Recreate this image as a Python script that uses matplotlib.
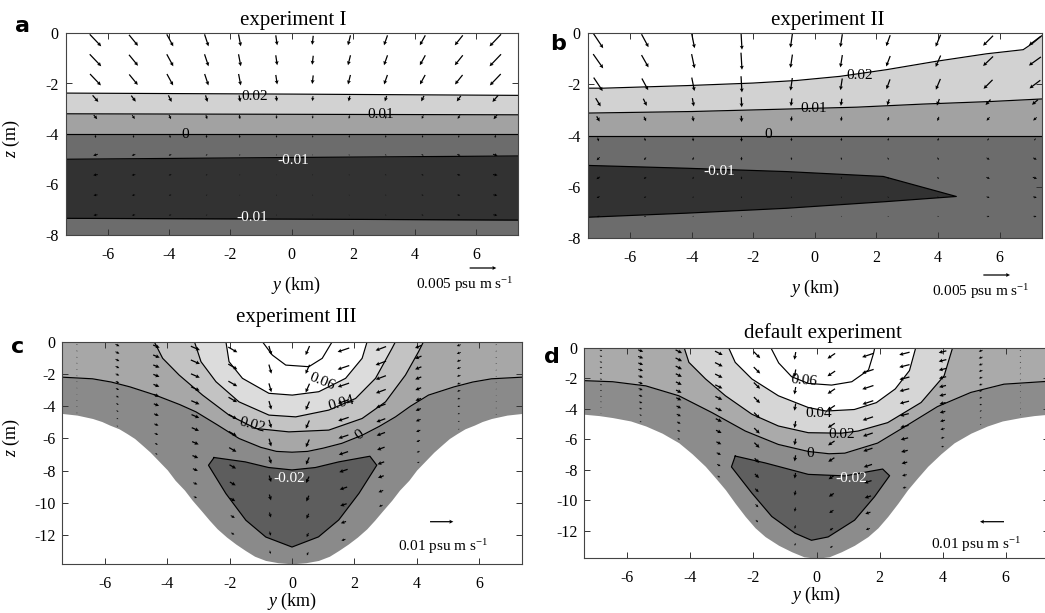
import numpy as np
import matplotlib
matplotlib.use("Agg")
import matplotlib.pyplot as plt

plt.rcParams.update({
    "font.family": "Liberation Serif",
    "mathtext.fontset": "custom",
    "mathtext.rm": "Liberation Serif",
    "mathtext.it": "Liberation Serif:italic",
    "axes.unicode_minus": False,
})

# ---------------------------------------------------------------- panel a
A_X = [-7.37, 0.0, 7.37]
A_Z_P002 = [-2.38, -2.42, -2.47]
A_Z_P001 = [-3.20, -3.22, -3.24]
A_Z_0 = [-3.99, -3.99, -3.99]
A_Z_M001_TOP = [-5.00, -4.93, -4.87]
A_Z_M001_BOT = [-7.34, -7.37, -7.41]

A_COLS = [-6.4, -5.16, -3.97, -2.78, -1.7, -0.5, 0.68, 1.87, 3.06, 4.26, 5.44, 6.63]
A_ROWS = [-0.29, -1.08, -1.85, -2.6, -3.33, -4.1, -4.83, -5.62, -6.42, -7.21]
A_U_SURF = [2.15, 1.69, 1.22, 0.75, 0.43, 0.28, -0.19, -0.47, -0.66, -1.03, -1.50, -2.15]   # 1e-3 psu m/s
A_W_SURF = [-2.25, -2.06, -2.25, -2.25, -2.25, -1.87, -1.69, -1.87, -1.87, -1.87, -1.87, -2.25]
A_FU = [1.0, 1.0, 0.95, 0.5, 0.3, 0.05, -0.4, -0.4, -0.35, -0.35]
A_FW = [1.0, 1.0, 0.95, 0.55, 0.35, 0.25, 0.12, 0.05, 0.04, 0.04]

# ---------------------------------------------------------------- panel b
B_P002_X = [-7.37, -6.86, -4.16, -2.0, -0.59, 0.81, 2.32, 3.95, 5.57, 6.76, 7.08, 7.37]
B_P002_Z = [-2.15, -2.15, -2.05, -1.95, -1.85, -1.69, -1.43, -1.10, -0.81, -0.65, -0.39, -0.10]
B_P001_X = [-7.37, -4.0, -0.8, 1.36, 3.5, 5.7, 7.37]
B_P001_Z = [-3.12, -3.06, -2.96, -2.89, -2.77, -2.67, -2.57]
B_0_X = [-7.37, 7.37]
B_0_Z = [-4.0, -4.0]
B_M001_TOP_X = [-7.37, -4.16, -0.92, 2.22, 4.59]
B_M001_TOP_Z = [-5.16, -5.27, -5.40, -5.59, -6.37]
B_M001_BOT_X = [-7.37, -4.16, -0.92, 2.32, 4.59]
B_M001_BOT_Z = [-7.18, -7.02, -6.83, -6.57, -6.37]

B_COLS = [-7.03, -5.51, -3.95, -2.38, -0.76, 0.86, 2.38, 4.0, 5.62, 7.14]
B_ROWS = [-0.3, -1.1, -2.0, -2.7, -3.35, -4.15, -4.9, -5.65, -6.4, -7.15]
B_U_SURF = [1.87, 1.31, 0.56, 0.19, -0.37, -0.37, -0.75, -0.94, -1.87, -2.25]
B_W_SURF = [-2.81, -2.43, -2.81, -3.37, -2.62, -2.43, -2.06, -2.25, -1.87, -1.69]
B_FU = [1.0, 1.0, 0.9, 0.5, 0.3, 0.1, -0.3, -0.35, -0.3, -0.25]
B_FW = [1.0, 0.95, 0.9, 0.55, 0.35, 0.25, 0.2, 0.15, 0.1, 0.08]

# ---------------------------------------------------------------- panel c
C_BATH_X = [-7.37, -6.9, -6.4, -6.1, -5.85, -5.55, -5.3, -5.05, -4.8, -4.55, -4.3, -4.0, -3.75,
            -3.45, -3.2, -2.9, -2.65, -2.4, -2.1, -1.8, -1.5, -1.2, -0.85, -0.45, 0.0,
            0.45, 0.85, 1.2, 1.5, 1.8, 2.1, 2.4, 2.65, 2.9, 3.2, 3.45, 3.75, 4.0,
            4.3, 4.55, 4.8, 5.05, 5.3, 5.55, 5.85, 6.1, 6.4, 6.9, 7.37]
C_BATH_Z = [-4.45, -4.55, -4.76, -4.95, -5.17, -5.4, -5.69, -6.0, -6.42, -6.85, -7.35, -7.95, -8.59,
            -9.2, -9.83, -10.5, -11.07, -11.6, -12.11, -12.55, -12.94, -13.3, -13.56, -13.7, -13.77,
            -13.7, -13.56, -13.3, -12.94, -12.55, -12.11, -11.6, -11.07, -10.5, -9.83, -9.2, -8.59, -7.95,
            -7.35, -6.85, -6.42, -6.0, -5.69, -5.4, -5.17, -4.95, -4.76, -4.55, -4.45]
C_0_X = [-7.37, -6.4, -5.8, -5.2, -4.4, -3.6, -3.08, -2.4, -1.7, -1.0, -0.5, 0.0,
         0.5, 1.0, 1.6, 2.25, 2.8, 3.32, 3.8, 4.38, 5.2, 5.8, 6.4, 7.37]
C_0_Z = [-2.2, -2.3, -2.5, -2.8, -3.3, -3.9, -4.35, -5.15, -6.0, -6.55, -6.8, -6.85,
         -6.8, -6.6, -6.3, -5.8, -5.25, -4.66, -4.0, -3.31, -2.8, -2.5, -2.3, -2.2]
C_P002_X = [-4.42, -4.15, -3.62, -2.87, -2.02, -1.16, -0.1, 1.18, 2.25, 3.0, 3.64, 4.06, 4.22]
C_P002_Z = [0.0, -1.03, -2.07, -3.31, -4.55, -5.38, -5.59, -5.48, -4.76, -3.73, -2.07, -0.62, 0.0]
C_P004_X = [-3.13, -2.92, -2.44, -1.7, -0.74, 0.12, 1.18, 2.04, 2.68, 3.21, 3.32]
C_P004_Z = [0.0, -1.24, -2.48, -3.73, -4.55, -4.66, -4.24, -3.52, -2.27, -0.41, 0.0]
C_P006_X = [-2.12, -2.02, -1.59, -0.74, 0.01, 0.86, 1.72, 2.25, 2.41]
C_P006_Z = [0.0, -1.24, -2.27, -3.2, -3.31, -3.1, -2.27, -1.03, 0.0]
C_P008_X = [-0.95, -0.63, -0.2, 0.54, 0.97, 1.29]
C_P008_Z = [0.0, -0.83, -1.45, -1.55, -1.03, 0.0]
C_M002_X = [-2.5, -1.5, -0.75, 0.0, 0.75, 1.5, 2.5, 2.72, 2.15, 1.5, 0.85, 0.0, -0.84, -1.48, -2.12, -2.68]
C_M002_Z = [-7.18, -7.45, -7.8, -7.95, -7.8, -7.45, -7.1, -7.66, -9.4, -11.05, -12.1, -12.73, -12.11, -11.07, -9.42, -7.66]

C_COLS = [-6.9, -5.6, -4.35, -3.1, -1.9, -0.7, 0.5, 1.65, 2.85, 4.05, 5.35, 6.55]
C_DEPTH = [4.6, 5.45, 7.25, 10.05, 12.4, 13.6, 13.7, 12.8, 10.6, 7.8, 5.65, 4.7]
SIGMA = [0.04, 0.125, 0.21, 0.29, 0.375, 0.46, 0.54, 0.625, 0.71, 0.79, 0.875, 0.96]
C_U_SURF = [0.5, 1.7, 2.8, 3.9, 3.9, 1.1, -1.7, -5.0, -4.5, -2.8, -1.7, -0.5]
C_W_SURF = [-0.3, -0.85, -1.15, -1.7, -2.25, -3.9, -3.9, -1.7, -1.7, -1.15, -0.6, -0.3]
C_F = [1.0, 1.0, 0.97, 0.94, 0.9, 0.85, 0.8, 0.72, 0.64, 0.55, 0.45, 0.35]

# ---------------------------------------------------------------- panel d
D_BATH_X = [-7.37, -6.9, -6.47, -5.9, -5.42, -4.9, -4.37, -3.95, -3.53, -3.2, -2.89, -2.58, -2.26,
            -1.95, -1.63, -1.2, -0.79, -0.4, 0.0,
            0.4, 0.79, 1.2, 1.63, 1.95, 2.26, 2.58, 2.89, 3.2, 3.53, 3.95, 4.37, 4.9,
            5.42, 5.9, 6.47, 6.9, 7.37]
D_BATH_Z = [-4.36, -4.45, -4.58, -4.8, -5.13, -5.6, -6.23, -6.95, -7.77, -8.55, -9.31, -10.2, -11.06,
            -11.8, -12.38, -12.95, -13.37, -13.7, -13.8,
            -13.7, -13.37, -12.95, -12.38, -11.8, -11.06, -10.2, -9.31, -8.55, -7.77, -6.95, -6.23, -5.6,
            -5.13, -4.8, -4.58, -4.45, -4.36]
D_0_X = [-7.37, -6.47, -5.42, -4.37, -3.32, -2.26, -1.21, -0.26, 0.4, 0.9, 1.94, 2.8, 3.84, 4.9, 5.95, 7.37]
D_0_Z = [-2.16, -2.23, -2.5, -3.15, -4.25, -5.46, -6.34, -6.8, -6.95, -6.91, -6.25, -5.18, -3.86, -2.93, -2.39, -2.2]
D_P002_X = [-4.2, -4.05, -3.52, -2.89, -2.05, -1.21, -0.26, 0.79, 1.32, 2.26, 3.32, 4.05, 4.32]
D_P002_Z = [0.0, -0.96, -2.05, -3.15, -4.36, -5.13, -5.57, -5.6, -5.46, -4.91, -3.59, -1.84, 0.0]
D_P004_X = [-2.79, -2.58, -2.05, -1.21, -0.26, 0.3, 1.2, 1.9, 2.5, 2.95, 3.15]
D_P004_Z = [0.0, -0.96, -2.05, -3.15, -3.92, -4.15, -4.05, -3.6, -2.7, -1.5, 0.0]
D_P006_X = [-1.45, -1.2, -0.79, -0.26, 0.48, 1.12, 1.65, 1.81, 1.85]
D_P006_Z = [0.0, -1.0, -1.9, -2.34, -2.45, -2.23, -1.46, -0.37, 0.0]
D_M002_X = [-2.58, -1.63, -0.26, 0.9, 2.1, 2.32, 1.84, 1.21, 0.37, -0.16, -0.68, -1.42, -2.05, -2.7]
D_M002_Z = [-7.1, -7.55, -8.3, -8.4, -7.95, -8.39, -9.77, -11.3, -12.4, -12.62, -12.16, -11.06, -9.53, -7.81]

D_COLS = [-6.84, -5.58, -4.37, -3.1, -1.89, -0.68, 0.47, 1.63, 2.79, 4.0, 5.21, 6.47]
D_DEPTH = [4.49, 5.05, 6.23, 8.8, 11.84, 13.43, 13.6, 12.38, 9.55, 6.75, 5.25, 4.58]
D_U_SURF = [1.0, 2.1, 2.7, 3.2, 2.7, -0.55, -3.2, -4.8, -4.3, -3.2, -1.6, -0.55]
D_W_SURF = [-0.4, -0.8, -1.35, -1.6, -2.7, -3.2, -2.15, -1.6, -1.1, -0.8, -0.55, -0.3]
D_F = [1.0, 1.0, 0.97, 0.94, 0.9, 0.85, 0.8, 0.72, 0.64, 0.55, 0.45, 0.35]

# ---------------------------------------------------------------- figure
W, H = 1045, 613
fig = plt.figure(figsize=(W / 100, H / 100), dpi=100)


def px_axes(left, top, right, bottom):
    return fig.add_axes([left / W, 1 - bottom / H, (right - left) / W, (bottom - top) / H])


def fx(x):
    return x / W


def fy(y):
    return 1 - y / H


LW = 0.85


def style(ax, ylim, yticks):
    ax.set_xlim(-7.37, 7.37)
    ax.set_ylim(*ylim)
    ax.set_xticks([-6, -4, -2, 0, 2, 4, 6])
    ax.set_yticks(yticks)
    ax.tick_params(direction="in", top=True, right=True, length=4, width=0.7,
                   labelsize=11.5, color="#333333")
    ax.tick_params(axis="x", pad=8.5)
    ax.tick_params(axis="y", pad=5)
    for s in ax.spines.values():
        s.set_color("#444444")
        s.set_linewidth(0.8)
        s.set_zorder(10)


def quiv(ax, xs, zs, u, w, per_px):
    return ax.quiver(xs, zs, u, w, units="dots", scale_units="dots", scale=per_px,
                     angles="uv", pivot="mid", width=1.25, headwidth=3.2,
                     headlength=3.2, headaxislength=2.8, minshaft=1.5, minlength=0.6,
                     color="k", zorder=5)


def lab(ax, x, z, s, color="k", rot=0):
    ax.text(x, z, s, fontsize=11, color=color, ha="center", va="center",
            rotation=rot, rotation_mode="anchor", zorder=6)


# ---- panel a
ax = px_axes(65.7, 33, 518, 235)
ax.fill_between(A_X, -8, 0, color="#6c6c6c", lw=0)
ax.fill_between(A_X, A_Z_0, 0, color="#a2a2a2", lw=0)
ax.fill_between(A_X, A_Z_P001, 0, color="#d2d2d2", lw=0)
ax.fill_between(A_X, A_Z_P002, 0, color="white", lw=0)
ax.fill_between(A_X, A_Z_M001_BOT, A_Z_M001_TOP, color="#323232", lw=0)
for zz in (A_Z_P002, A_Z_P001, A_Z_0, A_Z_M001_TOP, A_Z_M001_BOT):
    ax.plot(A_X, zz, color="k", lw=LW, zorder=3)
gx, gz = np.meshgrid(A_COLS, A_ROWS)
ua = np.outer(A_FU, A_U_SURF) * 1e-3
wa = np.outer(A_FW, A_W_SURF) * 1e-3
qa = quiv(ax, gx, gz, ua, wa, 0.005 / 26.7)
lab(ax, -1.21, -2.51, "0.02")
lab(ax, 2.9, -3.24, "0.01")
lab(ax, -3.48, -4.03, "0")
lab(ax, 0.05, -5.05, "-0.01", "white")
lab(ax, -1.3, -7.3, "-0.01", "white")
style(ax, (-8, 0), [-8, -6, -4, -2, 0])
ax.set_ylabel("$z$ (m)", fontsize=13)
ax.yaxis.set_label_coords(-0.097, 0.48)
ax.set_xlabel("$y$ (km)", fontsize=13, va="center")
ax.xaxis.set_label_coords(0.509, -0.248)
ax.quiverkey(qa, fx(483), fy(268), 0.005, "", coordinates="figure", labelpos="S")
fig.text(fx(465), fy(285), "0.005 psu m s$^{-1}$", fontsize=11, ha="center", va="center")
fig.text(fx(293), fy(25), "experiment I", fontsize=15, ha="center", va="baseline")
fig.text(fx(22), fy(32), "a", fontsize=16, family="DejaVu Sans", weight="bold",
         ha="center", va="baseline")

# ---- panel b
ax = px_axes(587.7, 33, 1042, 238.3)
ax.fill_between(B_0_X, -8, 0, color="#6c6c6c", lw=0)
ax.fill_between(B_0_X, B_0_Z, 0, color="#a2a2a2", lw=0)
ax.fill_between(B_P001_X, B_P001_Z, 0, color="#d2d2d2", lw=0)
ax.fill_between(B_P002_X, B_P002_Z, 0, color="white", lw=0)
px_ = list(B_M001_TOP_X) + list(B_M001_BOT_X[::-1])
pz_ = list(B_M001_TOP_Z) + list(B_M001_BOT_Z[::-1])
ax.fill(px_, pz_, color="#323232", lw=0)
ax.plot(px_, pz_, color="k", lw=LW, zorder=3)
for xx, zz in ((B_P002_X, B_P002_Z), (B_P001_X, B_P001_Z), (B_0_X, B_0_Z)):
    ax.plot(xx, zz, color="k", lw=LW, zorder=3)
gx, gz = np.meshgrid(B_COLS, B_ROWS)
ub = np.outer(B_FU, B_U_SURF) * 1e-3
wb = np.outer(B_FW, B_W_SURF) * 1e-3
qb = quiv(ax, gx, gz, ub, wb, 0.005 / 26.7)
lab(ax, 1.46, -1.66, "0.02")
lab(ax, -0.05, -2.96, "0.01")
lab(ax, -1.51, -3.97, "0")
lab(ax, -3.11, -5.4, "-0.01", "white")
style(ax, (-8, 0), [-8, -6, -4, -2, 0])
ax.set_xlabel("$y$ (km)", fontsize=13, va="center")
ax.xaxis.set_label_coords(0.5, -0.243)
ax.quiverkey(qb, fx(996.7), fy(275), 0.005, "", coordinates="figure", labelpos="S")
fig.text(fx(980.7), fy(291.7), "0.005 psu m s$^{-1}$", fontsize=11, ha="center", va="center")
fig.text(fx(828), fy(25), "experiment II", fontsize=15, ha="center", va="baseline")
fig.text(fx(558), fy(50), "b", fontsize=16, family="DejaVu Sans", weight="bold",
         ha="center", va="baseline")

# ---- panel c
ax = px_axes(62.3, 341.7, 521.7, 564.3)
ax.fill_between(C_BATH_X, C_BATH_Z, 0, color="#8a8a8a", lw=0)
ax.fill_between(C_0_X, C_0_Z, 0, color="#a7a7a7", lw=0)
ax.fill(C_P002_X, C_P002_Z, color="#c3c3c3", lw=0)
ax.fill(C_P004_X, C_P004_Z, color="#dcdcdc", lw=0)
ax.fill(C_P006_X, C_P006_Z, color="white", lw=0)
ax.fill(C_M002_X, C_M002_Z, color="#5d5d5d", lw=0)
for xx, zz in ((C_0_X, C_0_Z), (C_P002_X, C_P002_Z), (C_P004_X, C_P004_Z),
               (C_P006_X, C_P006_Z), (C_P008_X, C_P008_Z)):
    ax.plot(xx, zz, color="k", lw=LW, zorder=3)
ax.plot(C_M002_X + C_M002_X[:1], C_M002_Z + C_M002_Z[:1], color="k", lw=LW, zorder=3)
gx = np.tile(C_COLS, (len(SIGMA), 1))
gz = -np.outer(SIGMA, C_DEPTH)
uc = np.outer(C_F, C_U_SURF) * 1e-3
wc = np.outer(C_F, C_W_SURF) * 1e-3
qc = quiv(ax, gx, gz, uc, wc, 0.01 / 23.3)
lab(ax, 0.97, -2.5, "0.06", rot=-22)
lab(ax, 1.58, -3.8, "0.04", rot=15)
lab(ax, -1.27, -5.17, "0.02", rot=-15)
lab(ax, 2.16, -5.8, "0", rot=35)
lab(ax, -0.1, -8.5, "-0.02", "white")
style(ax, (-13.8, 0), [-12, -10, -8, -6, -4, -2, 0])
ax.set_ylabel("$z$ (m)", fontsize=13)
ax.yaxis.set_label_coords(-0.088, 0.57)
ax.set_xlabel("$y$ (km)", fontsize=13, va="center")
ax.xaxis.set_label_coords(0.501, -0.168)
ax.quiverkey(qc, fx(441.7), fy(521.7), 0.01, "", coordinates="figure", labelpos="S")
fig.text(fx(443), fy(546.7), "0.01 psu m s$^{-1}$", fontsize=11, ha="center", va="center")
fig.text(fx(296), fy(321.7), "experiment III", fontsize=15, ha="center", va="baseline")
fig.text(fx(17.5), fy(353), "c", fontsize=16, family="DejaVu Sans", weight="bold",
         ha="center", va="baseline")

# ---- panel d
ax = px_axes(584.3, 347.7, 1048.7, 558.3)
ax.fill_between(D_BATH_X, D_BATH_Z, 0, color="#8c8c8c", lw=0)
ax.fill_between(D_0_X, D_0_Z, 0, color="#aaaaaa", lw=0)
ax.fill(D_P002_X, D_P002_Z, color="#d6d6d6", lw=0)
ax.fill(D_P004_X, D_P004_Z, color="white", lw=0)
ax.fill(D_M002_X, D_M002_Z, color="#5f5f5f", lw=0)
for xx, zz in ((D_0_X, D_0_Z), (D_P002_X, D_P002_Z), (D_P004_X, D_P004_Z),
               (D_P006_X, D_P006_Z)):
    ax.plot(xx, zz, color="k", lw=LW, zorder=3)
ax.plot(D_M002_X + D_M002_X[:1], D_M002_Z + D_M002_Z[:1], color="k", lw=LW, zorder=3)
gx = np.tile(D_COLS, (len(SIGMA), 1))
gz = -np.outer(SIGMA, D_DEPTH)
ud = np.outer(D_F, D_U_SURF) * 1e-3
wd = np.outer(D_F, D_W_SURF) * 1e-3
qd = quiv(ax, gx, gz, ud, wd, 0.01 / 24.0)
lab(ax, -0.4, -2.19, "0.06", rot=-5)
lab(ax, 0.08, -4.3, "0.04")
lab(ax, 0.79, -5.7, "0.02")
lab(ax, -0.21, -6.91, "0")
lab(ax, 1.1, -8.6, "-0.02", "white")
style(ax, (-13.8, 0), [-12, -10, -8, -6, -4, -2, 0])
ax.set_xlabel("$y$ (km)", fontsize=13, va="center")
ax.xaxis.set_label_coords(0.5, -0.174)
ax.quiverkey(qd, fx(992), fy(521.7), 0.01, "", angle=180, coordinates="figure", labelpos="S")
fig.text(fx(975.8), fy(545), "0.01 psu m s$^{-1}$", fontsize=11, ha="center", va="center")
fig.text(fx(823), fy(338.3), "default experiment", fontsize=15, ha="center", va="baseline")
fig.text(fx(551.5), fy(363), "d", fontsize=16, family="DejaVu Sans", weight="bold",
         ha="center", va="baseline")

fig.savefig("out.png", dpi=100)
